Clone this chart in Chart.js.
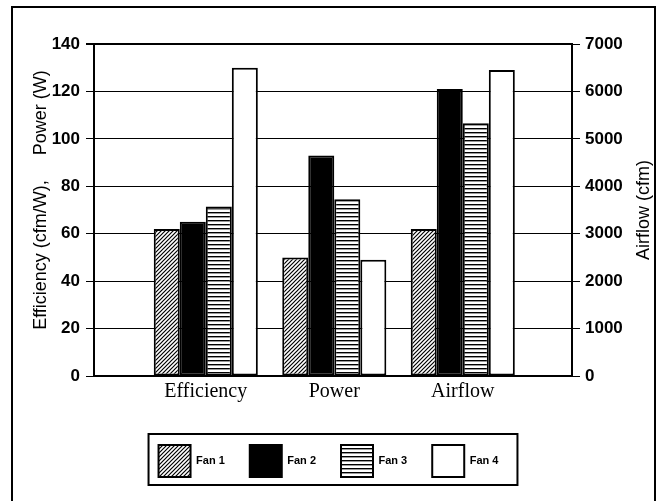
<!DOCTYPE html>
<html>
<head>
<meta charset="utf-8">
<script src="https://cdn.jsdelivr.net/npm/chart.js@4.4.1/dist/chart.umd.min.js"></script>
<style>
  html, body { margin: 0; padding: 0; background: #fff; }
  #wrap { width: 657px; height: 501px; }
</style>
</head>
<body>
<div id="wrap"><canvas id="fanChart" width="657" height="501"></canvas></div>
<script>
// x categories (Efficiency + Power use the left axis, Airflow the right one)
const categories = ['Efficiency', 'Power', 'Airflow'];
const fanNames = ['Fan 1', 'Fan 2', 'Fan 3', 'Fan 4'];

// per fan: efficiency (cfm/W), power (W), airflow (cfm)
const fan1 = [62, 50, 3100];
const fan2 = [65, 93, 6050];
const fan3 = [71.5, 74.5, 5330];
const fan4 = [130, 49, 6450];
const fanValues = [fan1, fan2, fan3, fan4];

// axis ticks
const leftTicks = [0, 20, 40, 60, 80, 100, 120, 140];
const rightTicks = [0, 1000, 2000, 3000, 4000, 5000, 6000, 7000];

const leftTitle = '    Efficiency (cfm/W),     Power (W)';
const rightTitle = 'Airflow (cfm)';

Chart.defaults.font.family = '"Liberation Sans", Arial, sans-serif';
Chart.defaults.color = '#000';

function makeFill(kind) {
    if (kind === 'black') return '#000';
    if (kind === 'white') return '#fff';
    const c = document.createElement('canvas');
    const g = c.getContext('2d');
    if (kind === 'diag') {
        c.width = 4; c.height = 4;
        g.fillStyle = '#fff';
        g.fillRect(0, 0, 4, 4);
        g.strokeStyle = '#000';
        g.lineWidth = 1.2;
        g.beginPath();
        g.moveTo(-1, 5); g.lineTo(5, -1);
        g.moveTo(-1, 1); g.lineTo(1, -1);
        g.moveTo(3, 5); g.lineTo(5, 3);
        g.stroke();
    } else {
        // horizontal stripes
        c.width = 4; c.height = 4;
        g.fillStyle = '#fff';
        g.fillRect(0, 0, 4, 4);
        g.fillStyle = '#000';
        g.fillRect(0, 0, 4, 1);
        g.fillStyle = 'rgba(0,0,0,0.4)';
        g.fillRect(0, 1, 4, 1);
    }
    return g.createPattern(c, 'repeat');
}

const fills = [makeFill('diag'), makeFill('black'), makeFill('stripes'), makeFill('white')];

const datasets = [];
fanValues.forEach((vals, i) => {
    const look = {
        label: fanNames[i],
        backgroundColor: fills[i],
        borderColor: '#000',
        borderWidth: 2,
        borderSkipped: false,
        stack: 'fan' + (i + 1)
    };
    datasets.push({ ...look, yAxisID: 'y', data: [{ x: 0, y: vals[0] }, { x: 1, y: vals[1] }] });
    datasets.push({ ...look, yAxisID: 'y2', data: [{ x: 2, y: vals[2] }] });
});

const framePlugin = {
    id: 'frame',
    afterLayout(chart) {
        // legend sits a little left of centre in the original
        chart.legend.left -= 5;
        chart.legend.right -= 5;
    },
    beforeDraw(chart) {
        const ctx = chart.ctx;
        ctx.save();
        ctx.fillStyle = '#fff';
        ctx.fillRect(0, 0, chart.width, chart.height);
        ctx.strokeStyle = '#000';
        ctx.lineWidth = 2;
        ctx.strokeRect(12, 7, chart.width - 14, chart.height + 10);
        ctx.restore();
    },
    afterDraw(chart) {
        const ctx = chart.ctx;
        const boxes = chart.legend.legendHitBoxes;
        ctx.save();
        // box round the legend
        if (boxes && boxes.length) {
            const first = boxes[0];
            const last = boxes[boxes.length - 1];
            ctx.strokeStyle = '#000';
            ctx.lineWidth = 2;
            const l = first.left - 10, t = first.top - 11;
            ctx.strokeRect(l, t, last.left + last.width + 19 - l, first.height + 19);
        }
        // right axis title, reading bottom to top
        const area = chart.chartArea;
        const y2 = chart.scales.y2;
        ctx.translate(y2.right - 11, (area.top + area.bottom) / 2);
        ctx.rotate(-Math.PI / 2);
        ctx.fillStyle = '#000';
        ctx.font = '18px "Liberation Sans", Arial, sans-serif';
        ctx.textAlign = 'center';
        ctx.textBaseline = 'middle';
        ctx.fillText(rightTitle, 0, 0);
        ctx.restore();
    }
};

new Chart(document.getElementById('fanChart'), {
    type: 'bar',
    data: { datasets: datasets },
    options: {
        responsive: false,
        animation: false,
        devicePixelRatio: 1,
        categoryPercentage: 0.81,
        barPercentage: 1,
        layout: { padding: { left: 12, right: 2, top: 44, bottom: 14 } },
        plugins: {
            tooltip: { enabled: false },
            legend: {
                position: 'bottom',
                labels: {
                    boxWidth: 32,
                    boxHeight: 32,
                    padding: 25,
                    font: { size: 11, weight: 'bold' },
                    filter: (item, data) => data.datasets[item.datasetIndex].yAxisID === 'y'
                }
            }
        },
        scales: {
            x: {
                type: 'linear',
                offset: false,
                min: -0.87,
                max: 2.85,
                grid: { display: false, drawTicks: false, offset: false },
                border: { color: '#000', width: 2 },
                afterBuildTicks: (s) => { s.ticks = categories.map((c, i) => ({ value: i })); },
                afterFit: (s) => { s.height = 44; },
                ticks: {
                    padding: 4,
                    autoSkip: false,
                    maxRotation: 0,
                    font: { family: '"Liberation Serif", "Times New Roman", serif', size: 20 },
                    callback: (v) => categories[v]
                }
            },
            y: {
                position: 'left',
                stacked: false,
                min: leftTicks[0],
                max: leftTicks[leftTicks.length - 1],
                afterFit: (s) => { s.width = 82; },
                grid: {
                    color: '#000',
                    lineWidth: (ctx) => (ctx.tick && ctx.tick.value === 140 ? 2 : 1),
                    tickLength: 8
                },
                border: { color: '#000', width: 2 },
                title: {
                    display: true,
                    text: leftTitle,
                    font: { size: 18 },
                    padding: { top: 18, bottom: 0 }
                },
                ticks: {
                    stepSize: leftTicks[1] - leftTicks[0],
                    padding: 6,
                    font: { size: 17, weight: 'bold' },
                    callback: (v) => String(v)
                }
            },
            y2: {
                position: 'right',
                stacked: false,
                min: rightTicks[0],
                max: rightTicks[rightTicks.length - 1],
                afterFit: (s) => { s.width = 83; },
                grid: { color: '#000', drawOnChartArea: false, tickLength: 8 },
                border: { color: '#000', width: 2 },
                ticks: {
                    stepSize: rightTicks[1] - rightTicks[0],
                    padding: 5,
                    font: { size: 17, weight: 'bold' },
                    callback: (v) => String(v)
                }
            }
        }
    },
    plugins: [framePlugin]
});
</script>
</body>
</html>
